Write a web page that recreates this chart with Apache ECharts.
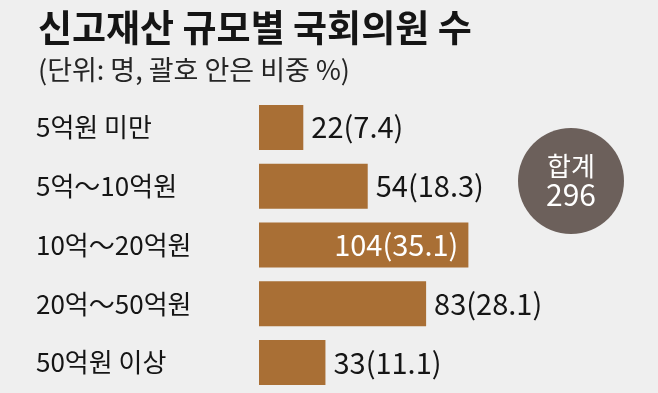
<!DOCTYPE html>
<html>
<head>
<meta charset="utf-8">
<script src="https://cdn.jsdelivr.net/npm/echarts@6/dist/echarts.min.js"></script>
<style>
html,body{margin:0;padding:0;background:#efefef;}
#c{width:658px;height:393px;}
</style>
</head>
<body>
<div id="c"></div>
<script>
const titleText = '신고재산 규모별 국회의원 수';
const subtitleText = '(단위: 명, 괄호 안은 비중 %)';
const categories = ['5억원 미만', '5억～10억원', '10억～20억원', '20억～50억원', '50억원 이상'];
const counts = [22, 54, 104, 83, 33];
const shares = [7.4, 18.3, 35.1, 28.1, 11.1];
const totalLabel = '합계';
const totalValue = 296;
const insideIndex = 2;

const FONT = '"Noto Sans CJK KR", "Noto Sans", sans-serif';
const chart = echarts.init(document.getElementById('c'), null, {renderer: 'canvas'});

const barData = counts.map((v, i) => ({
  value: v,
  label: i === insideIndex
    ? {position: 'insideRight', distance: 10, color: '#ffffff'}
    : {position: 'right', distance: 8, color: '#151515'}
}));

chart.setOption({
  backgroundColor: '#efefef',
  animation: false,
  title: {
    text: titleText,
    subtext: subtitleText,
    left: 33,
    top: 4,
    itemGap: 10,
    textStyle: {fontFamily: FONT, fontSize: 37, fontWeight: 'bold', color: '#151515'},
    subtextStyle: {fontFamily: FONT, fontSize: 27, color: '#252525'}
  },
  grid: {left: 259, top: 98, height: 294, right: 97},
  xAxis: {type: 'value', min: 0, max: 150, show: false},
  yAxis: {
    type: 'category',
    data: categories,
    inverse: true,
    axisLine: {show: false},
    axisTick: {show: false},
    axisLabel: {
      align: 'left',
      margin: 223,
      fontFamily: FONT,
      fontSize: 26,
      color: '#151515'
    }
  },
  series: [{
    type: 'bar',
    data: barData,
    barWidth: 45,
    itemStyle: {color: '#a96f35'},
    label: {
      show: true,
      fontFamily: FONT,
      fontSize: 29,
      formatter: p => counts[p.dataIndex] + '(' + shares[p.dataIndex] + ')'
    }
  }],
  graphic: [{
    type: 'group',
    left: 518,
    top: 128,
    children: [
      {type: 'circle', shape: {cx: 53, cy: 52, r: 53}, style: {fill: '#6c605b'}},
      {type: 'text', style: {text: totalLabel, x: 53, y: 37, align: 'center', verticalAlign: 'middle', fill: '#ffffff', font: '26px ' + FONT}},
      {type: 'text', style: {text: String(totalValue), x: 53, y: 66, align: 'center', verticalAlign: 'middle', fill: '#ffffff', font: '30px ' + FONT}}
    ]
  }]
});
</script>
</body>
</html>
